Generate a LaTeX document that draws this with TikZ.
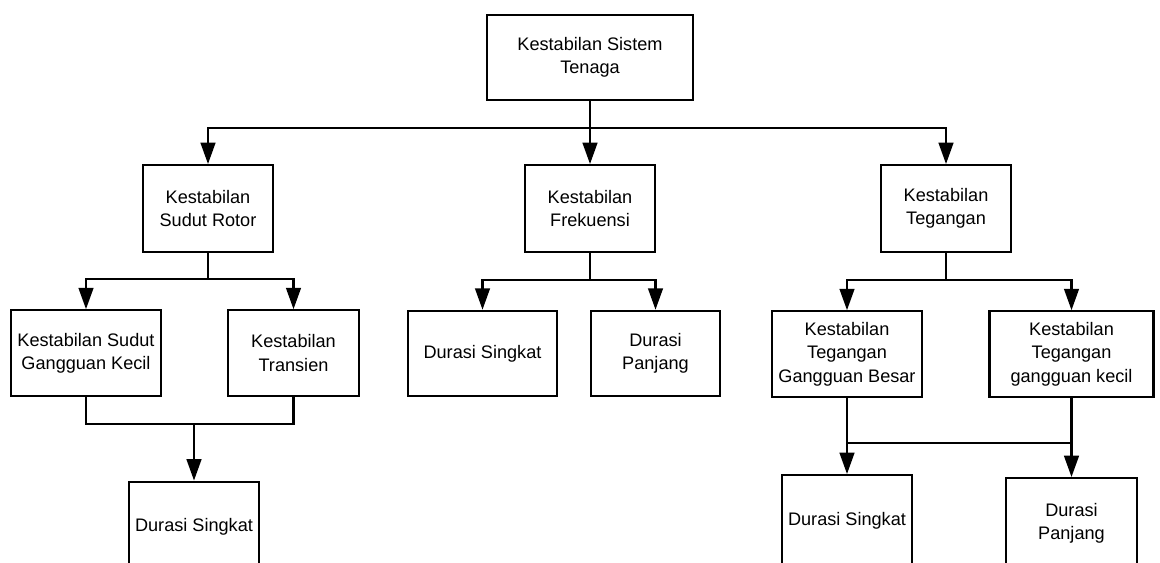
\documentclass[tikz,border=0pt]{standalone}
\usepackage{fontspec}
\setmainfont{Liberation Sans}
\usetikzlibrary{arrows.meta}
\tikzset{
  kotak/.style={draw, line width=1.7pt, align=center, inner sep=0pt,
    minimum height=64pt, font=\fontsize{13.6pt}{17.5pt}\selectfont},
  garis/.style={line width=1.7pt},
  panah/.style={garis, -{Triangle[length=16pt,width=11pt]}}
}
\begin{document}
\begin{tikzpicture}[x=0.75pt,y=-0.75pt]
  \useasboundingbox (0,0) rectangle (1160,562);
  % tingkat pertama
  \node[kotak, minimum width=154.5pt] (sistem) at (590,57.5) {Kestabilan Sistem\\Tenaga};
  % tingkat kedua
  \node[kotak, minimum width=97.5pt, minimum height=65pt] (rotor) at (208,208.5) {Kestabilan\\Sudut Rotor};
  \node[kotak, minimum width=97.5pt, minimum height=65pt] (frek) at (590,208.5) {Kestabilan\\Frekuensi};
  \node[kotak, minimum width=97.5pt, minimum height=65pt] (tegangan) at (946,208.5) {Kestabilan\\Tegangan};
  % tingkat ketiga
  \node[kotak, minimum width=112.5pt] (kecil) at (86,353) {Kestabilan Sudut\\Gangguan Kecil};
  \node[kotak, minimum width=98pt] (transien) at (293.5,353) {Kestabilan\\Transien};
  \node[kotak, minimum width=112pt] (singkatB) at (482.5,353.5) {Durasi Singkat};
  \node[kotak, minimum width=97pt] (panjangB) at (655.5,353.5) {Durasi\\Panjang};
  \node[kotak, minimum width=112pt] (besar) at (847,354) {Kestabilan\\Tegangan\\Gangguan Besar};
  \node[kotak, minimum width=123pt] (kecilT) at (1071.5,354) {Kestabilan\\Tegangan\\gangguan kecil};
  % tingkat keempat (terpotong di bawah)
  \node[kotak, minimum width=97.5pt, minimum height=68pt] (singkatA) at (194,527) {Durasi Singkat};
  \node[kotak, minimum width=98pt, minimum height=68pt] (singkatC) at (847,520.5) {Durasi Singkat};
  \node[kotak, minimum width=98pt, minimum height=68pt] (panjangC) at (1071.5,523.5) {Durasi\\Panjang};
  % penghubung
  \draw[garis] (sistem.south) -- ++(0,27) coordinate (j0);
  \foreach \n in {rotor,frek,tegangan}
    \draw[panah] (j0) -| (\n.north);
  \draw[garis] (rotor.south) -- ++(0,26) coordinate (j1);
  \foreach \n in {kecil,transien}
    \draw[panah] (j1) -| (\n.north);
  \draw[garis] (frek.south) -- ++(0,27) coordinate (j2);
  \foreach \n in {singkatB,panjangB}
    \draw[panah] (j2) -| (\n.north);
  \draw[garis] (tegangan.south) -- ++(0,27) coordinate (j3);
  \foreach \n in {besar,kecilT}
    \draw[panah] (j3) -| (\n.north);
  \draw[garis] (kecil.south) -- ++(0,27) coordinate (m1) -| (transien.south);
  \draw[panah] (m1 -| singkatA.north) -- (singkatA.north);
  \draw[garis] (besar.south) -- ++(0,45) coordinate (m2) -| (kecilT.south);
  \draw[panah] (m2) -- (singkatC.north);
  \draw[panah] (m2 -| kecilT.south) -- (panjangC.north);
\end{tikzpicture}
\end{document}
